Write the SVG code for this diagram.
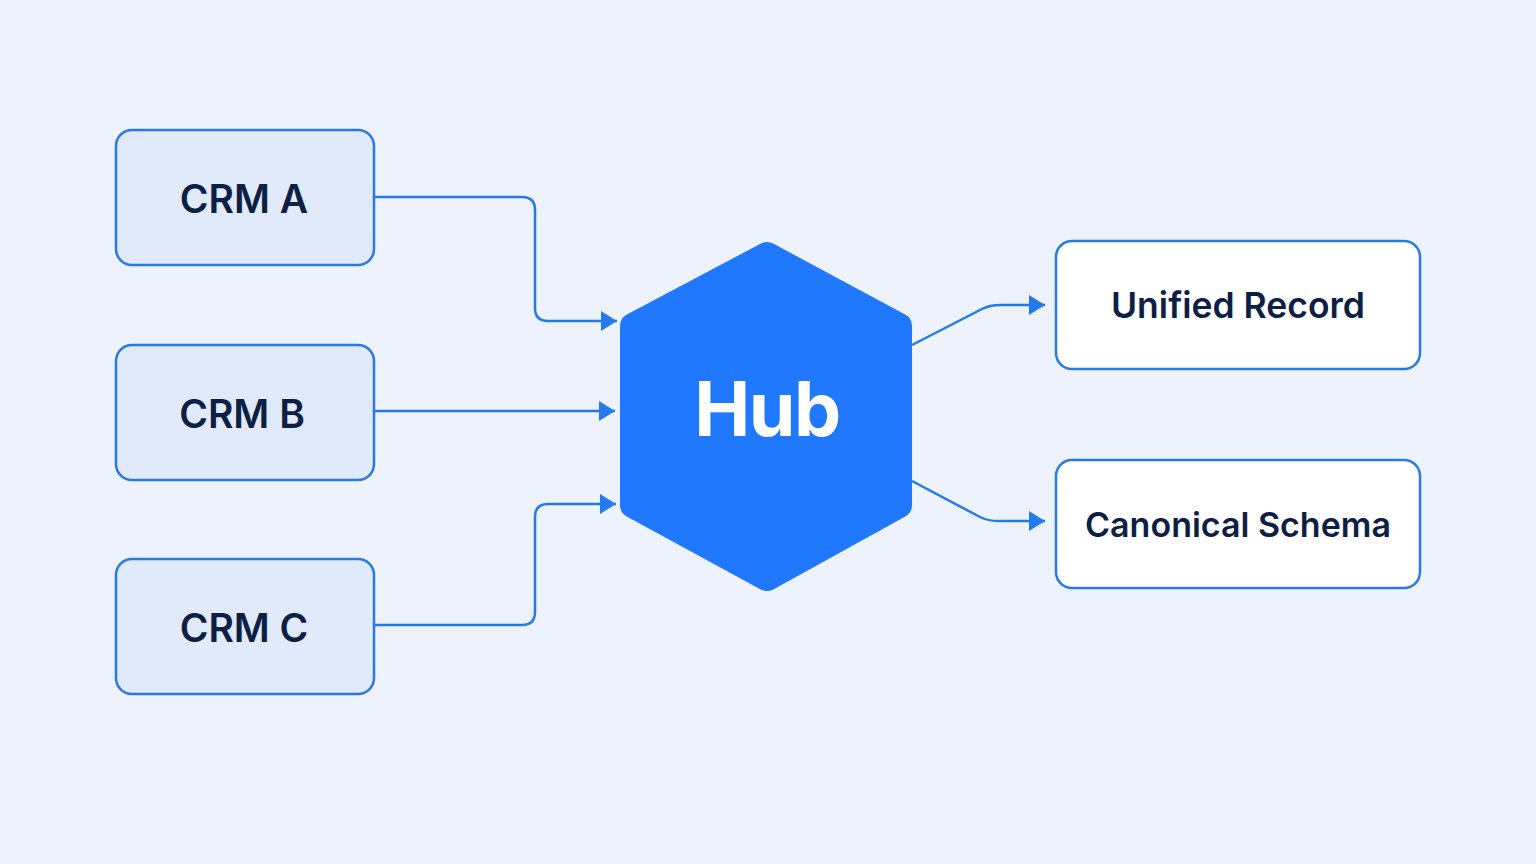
<svg xmlns="http://www.w3.org/2000/svg" width="1536" height="864" viewBox="0 0 1536 864">
<defs>
<marker id="arr" viewBox="0 0 16 20" refX="16" refY="10" markerWidth="16" markerHeight="20" markerUnits="userSpaceOnUse" orient="auto">
<path d="M0,0 L16,10 L0,20 Z" fill="#2479ec"/>
</marker>
</defs>
<style>
.src{fill:#e0eafb;stroke:#2a7ae2;stroke-width:2.5}
.dst{fill:#ffffff;stroke:#2a7ae2;stroke-width:2.5}
.lbl{font-family:Inter,"Noto Sans",sans-serif;font-weight:600;fill:#0e1f45;text-anchor:middle}
.con{fill:none;stroke:#2479ec;stroke-width:2.5;marker-end:url(#arr)}
</style>
<rect width="1536" height="864" fill="#edf2fc"/>
<g id="crm-a"><rect class="src" x="116" y="130" width="258" height="135" rx="16"/><text class="lbl" x="244" y="213" font-size="39">CRM A</text></g>
<g id="crm-b"><rect class="src" x="116" y="345" width="258" height="135" rx="16"/><text class="lbl" x="242" y="428" font-size="39">CRM B</text></g>
<g id="crm-c"><rect class="src" x="116" y="559" width="258" height="135" rx="16"/><text class="lbl" x="244" y="642" font-size="39">CRM C</text></g>
<g id="hub"><polygon points="767,255 899,326 899,505 767,578 633,505 633,326" fill="#1f78fd" stroke="#1f78fd" stroke-width="26" stroke-linejoin="round"/><text x="767" y="436" font-family="Inter,'Noto Sans',sans-serif" font-weight="700" font-size="75" letter-spacing="-1.5" fill="#ffffff" text-anchor="middle">Hub</text></g>
<g id="unified-record"><rect class="dst" x="1056" y="241" width="364" height="128" rx="16"/><text class="lbl" x="1238" y="318" font-size="35.5">Unified Record</text></g>
<g id="canonical-schema"><rect class="dst" x="1056" y="460" width="364" height="128" rx="16"/><text class="lbl" x="1238" y="537" font-size="34">Canonical Schema</text></g>
<g id="connectors">
<path class="con" d="M374,197 H522 Q535,197 535,210 V308 Q535,321 548,321 H617"/>
<path class="con" d="M374,411 H615"/>
<path class="con" d="M374,625 H522 Q535,625 535,612 V517 Q535,504 548,504 H616"/>
<path class="con" d="M912,345 L982,309 Q990,305 1000,305 H1045"/>
<path class="con" d="M912,481 L980,517 Q988,521 998,521 H1045"/>
</g>
</svg>
